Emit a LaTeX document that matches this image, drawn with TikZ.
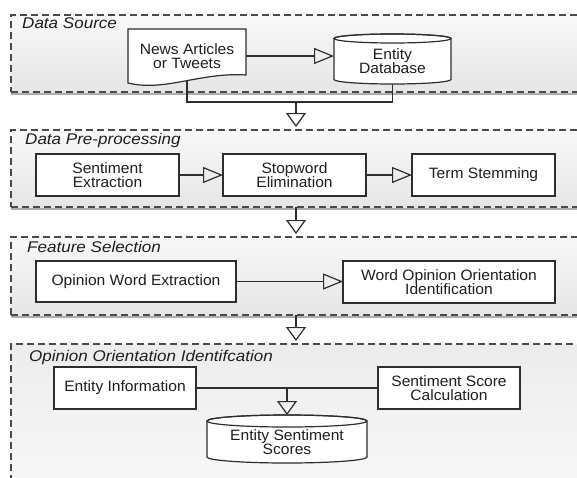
\documentclass[tikz,border=0pt]{standalone}
\usepackage{fontspec}
\newfontfamily\bodyfont{Liberation Sans}[FakeStretch=1.04]
\newfontfamily\titlefont{Liberation Sans}[FakeStretch=1.1]
\usetikzlibrary{arrows.meta,calc,shadows}
\pgfdeclarelayer{back}
\pgfdeclarelayer{mid}
\pgfsetlayers{back,mid,main}
\definecolor{panelline}{HTML}{4A4A4A}
\definecolor{boxline}{HTML}{2E2E2E}
\definecolor{txt}{HTML}{1E1E1E}
\tikzset{
  panel/.style={draw=panelline, line width=1.3pt, dash pattern=on 7pt off 4pt,
    top color=gray!5, bottom color=gray!20, minimum width=569pt, anchor=north west,
    inner sep=0, outer sep=0,
    drop shadow={shadow xshift=0pt, shadow yshift=-3pt, opacity=0.45, fill=black!70}},
  ptitle/.style={anchor=base west, inner sep=0, font=\titlefont\itshape\fontsize{15.5}{16}\selectfont, text=txt},
  box/.style={draw=boxline, line width=1.2pt, fill=white, inner sep=2pt, outer sep=0, align=center,
    font=\bodyfont\fontsize{15}{14.5}\selectfont, text=txt},
  shapetext/.style={inner sep=0, outer sep=0, align=center,
    font=\bodyfont\fontsize{15}{14.5}\selectfont, text=txt},
  shapeline/.style={draw=boxline, line width=1.2pt, fill=white},
  conn/.style={draw=boxline, line width=1.2pt},
  harr/.style={conn, -{Triangle[open, length=20pt, width=16pt]}},
  varr/.style={conn, -{Triangle[open, length=14pt, width=20pt]}},
}
\begin{document}
\begin{tikzpicture}[x=1pt,y=1pt]
\useasboundingbox (0,0) rectangle (577,-477);
\begin{pgfonlayer}{back}
  \fill[white] (0,0) rectangle (577,-477);
  \node[panel, minimum height=77pt] (p1) at (11,-15) {};
  \node[panel, minimum height=77pt] (p2) at (11,-130) {};
  \node[panel, minimum height=78pt] (p3) at (11,-237) {};
  \node[panel, minimum height=150pt, top color=gray!15, bottom color=gray!5] (p4) at (11,-344) {};
\end{pgfonlayer}

% titles
\node[ptitle] (t1) at (22,-28) {Data Source};
\node[ptitle] (t2) at (25,-144) {Data Pre-processing};
\node[ptitle] (t3) at (27,-252) {Feature Selection};
\node[ptitle] (t4) at (29,-361) {Opinion Orientation Identifcation};

% data source
\node[shapetext, minimum width=118pt, minimum height=54pt] (news) at (187,-56) {News Articles\\or Tweets};
\node[shapetext, minimum width=117pt, minimum height=45.5pt] (db) at (392.5,-61.25) {Entity\\Database};
\coordinate (jn) at (296,-102);

% pre-processing
\node[box, minimum width=143pt, minimum height=42pt] (se) at (107.5,-175) {Sentiment\\Extraction};
\node[box, minimum width=143pt, minimum height=42pt] (sw) at (294.5,-175) {Stopword\\Elimination};
\node[box, minimum width=143pt, minimum height=42pt] (ts) at (483.5,-175) {Term Stemming};

% feature selection
\node[box, minimum width=200pt, minimum height=41pt] (owe) at (136,-281.5) {Opinion Word Extraction};
\node[box, minimum width=212pt, minimum height=42pt] (wooi) at (449,-282) {Word Opinion Orientation\\Identification};

% opinion orientation
\node[box, minimum width=142pt, minimum height=42pt] (ei) at (125,-388) {Entity Information};
\node[box, minimum width=142pt, minimum height=42pt] (ssc) at (449,-388) {Sentiment Score\\Calculation};
\node[shapetext, minimum width=160pt, minimum height=42pt] (ess) at (287,-442) {Entity Sentiment\\Scores};
\coordinate (ej) at (ess.north |- ei.east);

\begin{pgfonlayer}{mid}
  % connectors
  \draw[conn] (news.center) |- (jn) -| (db.center);
  \draw[harr] (news.east) -- (news.east -| db.west);
  \draw[varr, shorten >=3pt] (jn) -- (p2.north -| jn);
  \draw[harr] (se) -- (sw);
  \draw[harr] (sw) -- (ts);
  \draw[varr, shorten >=3pt] (p2.south -| jn) -- (p3.north -| jn);
  \draw[harr] (owe.east) -- (owe.east -| wooi.west);
  \draw[varr, shorten >=3pt] (p3.south -| jn) -- (p4.north -| jn);
  \draw[conn] (ei) -- (ssc);
  \draw[varr] (ej) -- ($(ess.north)+(0,6)$);
  % document shape
  \draw[shapeline] (news.north west) -- (news.north east) -- ($(news.south east)+(0,8)$)
    .. controls ($(news.south east)+(-46,11)$) and ($(news.south west)+(37,-9)$) .. (news.south west) -- cycle;
  % database cylinder
  \draw[shapeline] (db.north west) -- ($(db.south west)+(0,4.5)$)
    arc[start angle=180, end angle=360, x radius=58.5pt, y radius=4.5pt]
    -- (db.north east) arc[start angle=0, end angle=180, x radius=58.5pt, y radius=4.5pt] -- cycle;
  \draw[conn] (db.north) ellipse[x radius=58.5pt, y radius=4.5pt];
  % scores cylinder
  \draw[shapeline] (ess.north west) -- ($(ess.south west)+(0,6)$)
    arc[start angle=180, end angle=360, x radius=80pt, y radius=6pt]
    -- (ess.north east) arc[start angle=0, end angle=180, x radius=80pt, y radius=6pt] -- cycle;
  \draw[conn] (ess.north) ellipse[x radius=80pt, y radius=6pt];
\end{pgfonlayer}
\end{tikzpicture}
\end{document}
